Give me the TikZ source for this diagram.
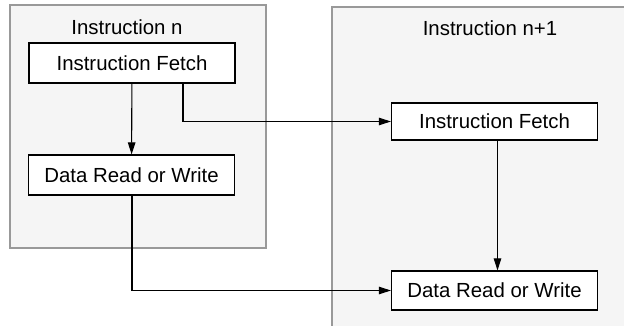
\documentclass[tikz,border=0pt]{standalone}
\usepackage{fontspec}
\setmainfont{Liberation Sans}
\usetikzlibrary{arrows.meta}
\tikzset{
  phase/.style={draw=black!40, line width=1.3pt, fill=black!4, inner sep=0pt},
  stage/.style={draw, line width=1.2pt, fill=white, inner sep=0pt,
    minimum width=206pt, minimum height=39pt, font=\fontsize{20.4}{24}\selectfont},
  title/.style={inner sep=0pt, font=\fontsize{20.4}{24}\selectfont},
  flow/.style={line width=1.1pt, -{Triangle[length=12pt,width=7.5pt]}}
}
\begin{document}
\begin{tikzpicture}[x=1pt, y=-1pt]
        \useasboundingbox (0, 0) rectangle (624, 326);
        % Instruction containers
        \node at (138, 126.5) (instA) [phase, minimum width=256pt, minimum height=243pt] {};
        \node at (486, 173.5) (instB) [phase, minimum width=308pt, minimum height=333pt] {};
        \node at (127, 27) (titleA) [title] {Instruction n};
        \node at (490, 28) (titleB) [title] {Instruction n+1};

        % Stages of instruction n
        \node at (132, 63) (fetchA) [stage, minimum height=40pt] {Instruction Fetch};
        \node at (131.5, 175) (dataA) [stage, minimum height=40pt] {Data Read or Write};

        % Stages of instruction n+1
        \node at (494.5, 121.5) (fetchB) [stage, minimum height=37pt] {Instruction Fetch};
        \node at (494.5, 290.5) (dataB) [stage] {Data Read or Write};

        % Draw flow edges
        \draw[flow] (fetchA) -- (dataA);
        \draw[flow] ([xshift=51pt]fetchA.south) |- (fetchB.west);
        \draw[flow] ([xshift=0.5pt]dataA.south) |- (dataB.west);
        \draw[flow] ([xshift=3pt]fetchB.south) -- ([xshift=3pt]dataB.north);
    \end{tikzpicture}
\end{document}
